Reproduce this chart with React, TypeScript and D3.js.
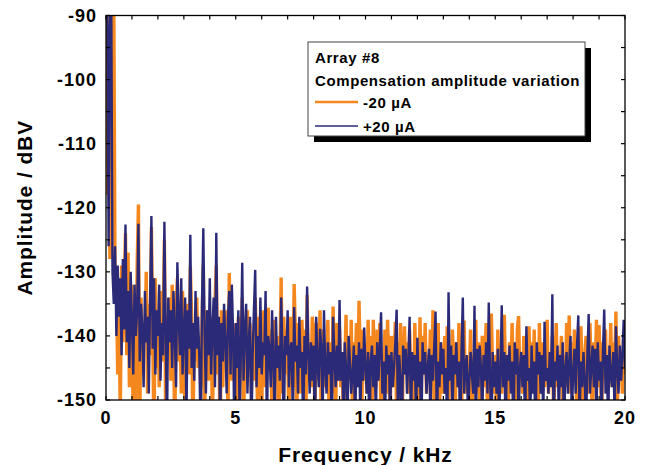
import React, { useEffect, useRef } from "react";
import * as d3 from "d3";

// Spectrum bins: 0 … 20 kHz in steps of 0.05 kHz (401 bins)
const FREQ_STEP_KHZ = 0.05;

// -20 µA series (dBV), one row per 0.5 kHz
const minus20uA: number[] = [
  -118, -92, -85, -128, -122, -86, -87, -133, -131, -146,
  -135, -153, -129, -141, -133, -124, -143, -127, -148, -136,
  -132, -157, -137, -153, -129, -119.5, -155, -134, -146, -138,
  -141, -130, -149, -135, -143, -123, -139, -157, -131, -145,
  -136, -148, -133, -144, -139, -125, -153, -137, -142, -134,
  -147, -132, -141, -155, -136, -131, -144, -138, -149, -133,
  -143, -153, -135, -140, -146, -129.2, -137, -157, -139, -144,
  -134, -145, -140, -148, -138, -128.9, -155, -136, -143, -147,
  -140, -137, -153, -142, -135, -129, -146, -141, -157, -136,
  -148, -139, -144, -136, -153, -130.2, -142, -147, -138, -145,
  -141, -153, -137, -146, -143, -134, -157, -139, -145, -136,
  -144, -138, -149, -140, -147, -134, -141, -155, -137, -146,
  -153, -136, -143, -148, -138, -135.6, -145, -139, -155, -141,
  -137.5, -147, -140, -157, -144, -130.9, -149, -137, -146, -139,
  -143, -153, -137, -145, -148, -131.9, -140, -155, -138, -146,
  -149, -137.5, -144, -139, -155, -133.6, -146, -141, -148, -137,
  -140, -153, -138, -147, -143, -136, -157, -139, -145, -148,
  -146, -137.5, -155, -141, -149, -135.4, -144, -153, -138, -147,
  -139, -148, -143, -155, -145, -136.7, -149, -140, -147, -137.5,
  -153, -141, -146, -138, -148, -134.5, -144, -155, -139, -147,
  -143, -149, -137.5, -146, -140, -153, -137.5, -145, -148, -139,
  -147, -138, -155, -143, -146, -139, -149, -137.5, -144, -153,
  -140, -148, -144, -137.8, -153, -141, -147, -138, -157, -145,
  -138.5, -146, -141, -149, -139, -147, -143, -155, -138, -146,
  -144, -153, -137.1, -148, -140, -146, -138, -149, -143, -147,
  -139, -148, -136, -155, -143, -145, -138, -153, -141, -147,
  -149, -140, -146, -138.5, -153, -143, -147, -139, -145, -155,
  -141, -148, -138, -146, -153, -140, -137.6, -149, -144, -147,
  -146, -139, -155, -143, -147, -137.5, -149, -141, -153, -145,
  -140, -148, -144, -138, -153, -143, -147, -136.5, -146, -149,
  -143, -153, -139, -147, -145, -149, -140, -136.7, -148, -144,
  -153, -141, -146, -138, -148, -144, -155, -139, -136.9, -147,
  -145, -149, -140, -147, -143, -153, -138.5, -146, -141, -148,
  -139, -147, -144, -155, -138, -146, -149, -141, -148, -143,
  -137.5, -149, -143, -147, -140, -153, -145, -138, -148, -144,
  -146, -140, -153, -143, -148, -138, -145, -136.8, -149, -141,
  -147, -139, -145, -153, -141, -148, -138.5, -146, -155, -143,
  -140, -149, -144, -138, -147, -153, -141, -146, -137.5, -148,
  -138.3, -145, -153, -141, -147, -139, -149, -143, -146, -138,
  -148, -141, -146, -136.2, -153, -140, -147, -144, -149, -139,
  -146,
];

// +20 µA series (dBV), one row per 0.5 kHz
const plus20uA: number[] = [
  -84, -86, -126, -92, -85, -130, -135, -126, -140, -129,
  -137, -131, -143, -128, -139, -122.6, -141, -133, -145, -130,
  -138, -146, -132, -140, -136, -122.5, -144, -135, -139, -148,
  -133, -141, -137, -149, -134, -121.3, -142, -131, -146, -136,
  -140, -132, -147, -138, -143, -122.2, -139, -155, -134, -141,
  -136, -145, -133, -140, -148, -128.5, -137, -143, -131, -146,
  -139, -134, -153, -136, -142, -124.2, -145, -138, -147, -133,
  -142, -137, -144, -157, -135, -123.2, -140, -149, -136, -143,
  -131, -146, -139, -134, -148, -123.9, -143, -137, -155, -138,
  -144, -135, -141, -149, -137, -133, -146, -132, -140, -157,
  -138, -145, -136, -153, -142, -128.6, -147, -139, -135, -149,
  -141, -137, -157, -143, -136, -129.7, -148, -140, -145, -134,
  -146, -141, -143, -133, -155, -140, -142, -148, -136, -144,
  -153, -137, -145, -141.5, -147, -134, -142.5, -157, -140, -143,
  -136, -148, -142, -141, -153, -135.5, -144, -141.5, -149, -137,
  -145, -142.5, -155, -140, -146, -132.3, -143, -149, -141, -147,
  -141.5, -157, -137, -144, -148, -138.9, -142, -153, -136, -145,
  -149, -141, -146, -142.5, -155, -137, -143, -148, -141.5, -147,
  -134.4, -147, -142.5, -153, -141, -145, -157, -140, -144, -149,
  -146, -141.5, -155, -143, -148, -141, -153, -142, -147, -138.7,
  -145, -149, -142.5, -157, -144, -141.5, -148, -143, -153, -141,
  -147, -142, -136.3, -149, -144, -155, -141.5, -146, -143, -153,
  -142.5, -148, -145, -141, -135.9, -153, -143, -147, -157, -141.5,
  -146, -142, -149, -144, -137, -155, -142.5, -147, -143, -153,
  -140.3, -148, -144, -157, -141, -146, -142.5, -149, -145, -142,
  -153, -143, -147, -141.5, -136.2, -155, -144, -148, -141, -146,
  -142, -149, -145, -155, -133.2, -147, -141.5, -153, -143, -146,
  -141, -148, -144, -157, -142.5, -134.0, -149, -145, -143, -153,
  -147, -142.5, -146, -149, -135.3, -155, -142, -148, -141.5, -145,
  -153, -143, -147, -141, -149, -134.8, -146, -157, -142.5, -148,
  -144, -149, -142, -153, -146, -135.2, -148, -142.5, -155, -143,
  -147, -141.5, -149, -144, -157, -141, -146, -142, -153, -145,
  -142.5, -148, -143, -155, -138.5, -147, -145, -153, -141.5, -149,
  -144, -157, -141, -146, -142.5, -149, -143, -153, -137.8, -147,
  -145, -149, -142.5, -148, -133.5, -155, -144, -147, -141.5, -153,
  -143, -148, -141, -157, -145, -142.5, -149, -144, -140, -153,
  -146, -142, -149, -141.5, -136.8, -153, -144, -148, -142.5, -147,
  -155, -143, -136.6, -149, -145, -141.5, -148, -142, -153, -141,
  -147, -144, -153, -142.5, -135.9, -149, -143, -155, -141.5, -146,
  -148, -142.5, -153, -138.5, -145, -149, -141.5, -147, -143, -137.5,
  -145,
];

const xTicks = [0, 5, 10, 15, 20];
const yTicks = [-90, -100, -110, -120, -130, -140, -150];
const legendTitle = ["Array #8", "Compensation amplitude variation"];
const seriesNames = ["-20 µA", "+20 µA"];

const ORANGE = "#F5871F";
const NAVY = "#2B2A78";
const FONT = "'Liberation Sans', Arial, Helvetica, sans-serif";

export default function App() {
  const ref = useRef<SVGSVGElement | null>(null);

  useEffect(() => {
    const svg = d3.select(ref.current);
    svg.selectAll("*").remove();

    const L = 106, R = 625, T = 15.5, B = 400;
    const x = d3.scaleLinear().domain([0, 20]).range([L, R]);
    const y = d3.scaleLinear().domain([-150, -90]).range([B, T]);

    svg.append("defs").append("clipPath").attr("id", "plotclip")
      .append("rect").attr("x", L).attr("y", T).attr("width", R - L).attr("height", B - T);

    const line = d3.line<number>()
      .x((_, i) => x(i * FREQ_STEP_KHZ))
      .y((d) => y(d));

    const g = svg.append("g").attr("clip-path", "url(#plotclip)");
    g.append("path").datum(minus20uA).attr("d", line)
      .attr("fill", "none").attr("stroke", ORANGE).attr("stroke-width", 3.4)
      .attr("stroke-linejoin", "miter").attr("stroke-miterlimit", 3);
    g.append("path").datum(plus20uA).attr("d", line)
      .attr("fill", "none").attr("stroke", NAVY).attr("stroke-width", 2.4)
      .attr("stroke-linejoin", "miter").attr("stroke-miterlimit", 3);

    // frame
    svg.append("rect").attr("x", L).attr("y", T).attr("width", R - L).attr("height", B - T)
      .attr("fill", "none").attr("stroke", "#000").attr("stroke-width", 1.3);

    // minor ticks (inward)
    const tk = svg.append("g").attr("stroke", "#000").attr("stroke-width", 1.2);
    d3.range(0, 21, 1).forEach((v) => {
      tk.append("line").attr("x1", x(v)).attr("x2", x(v)).attr("y1", B).attr("y2", B - 4);
      tk.append("line").attr("x1", x(v)).attr("x2", x(v)).attr("y1", T).attr("y2", T + 4);
    });
    d3.range(-150, -89, 5).forEach((v) => {
      tk.append("line").attr("x1", L).attr("x2", L + 4).attr("y1", y(v)).attr("y2", y(v));
      tk.append("line").attr("x1", R).attr("x2", R - 4).attr("y1", y(v)).attr("y2", y(v));
    });

    const txt = svg.append("g").attr("font-family", FONT).attr("font-weight", "bold").attr("fill", "#000");
    xTicks.forEach((v) => {
      txt.append("text").attr("x", x(v)).attr("y", 424).attr("text-anchor", "middle")
        .attr("font-size", 18).attr("letter-spacing", 1).text(String(v));
    });
    yTicks.forEach((v) => {
      txt.append("text").attr("x", 97).attr("y", y(v)).attr("dy", "0.36em").attr("text-anchor", "end")
        .attr("font-size", 18).attr("letter-spacing", 1).text(String(v));
    });
    txt.append("text").attr("x", (L + R) / 2).attr("y", 462).attr("text-anchor", "middle")
      .attr("font-size", 21).attr("letter-spacing", 0.9).text("Frequency / kHz");
    txt.append("text").attr("transform", `translate(32,${(T + B) / 2}) rotate(-90)`)
      .attr("text-anchor", "middle").attr("font-size", 21).attr("letter-spacing", 0.9)
      .text("Amplitude / dBV");

    // legend
    const lg = svg.append("g");
    lg.append("rect").attr("x", 314).attr("y", 48).attr("width", 277).attr("height", 94).attr("fill", "#000");
    lg.append("rect").attr("x", 308).attr("y", 42).attr("width", 277).attr("height", 94)
      .attr("fill", "#fff").attr("stroke", "#444").attr("stroke-width", 1);
    const lt = lg.append("g").attr("font-family", FONT).attr("font-weight", "bold")
      .attr("font-size", 15).attr("letter-spacing", 0.6).attr("fill", "#000");
    lt.append("text").attr("x", 315).attr("y", 63).text(legendTitle[0]);
    lt.append("text").attr("x", 315).attr("y", 86).text(legendTitle[1]);
    const colors = [ORANGE, NAVY];
    const widths = [2.6, 1.5];
    seriesNames.forEach((n, i) => {
      const yy = 102 + i * 24;
      lg.append("line").attr("x1", 315).attr("x2", 358).attr("y1", yy).attr("y2", yy)
        .attr("stroke", colors[i]).attr("stroke-width", widths[i]);
      lt.append("text").attr("x", 363).attr("y", yy + 6).text(n);
    });
  }, []);

  return (
    <svg ref={ref} width={650} height={465}
      style={{ position: "absolute", left: 0, top: 0, background: "#fff" }} />
  );
}
